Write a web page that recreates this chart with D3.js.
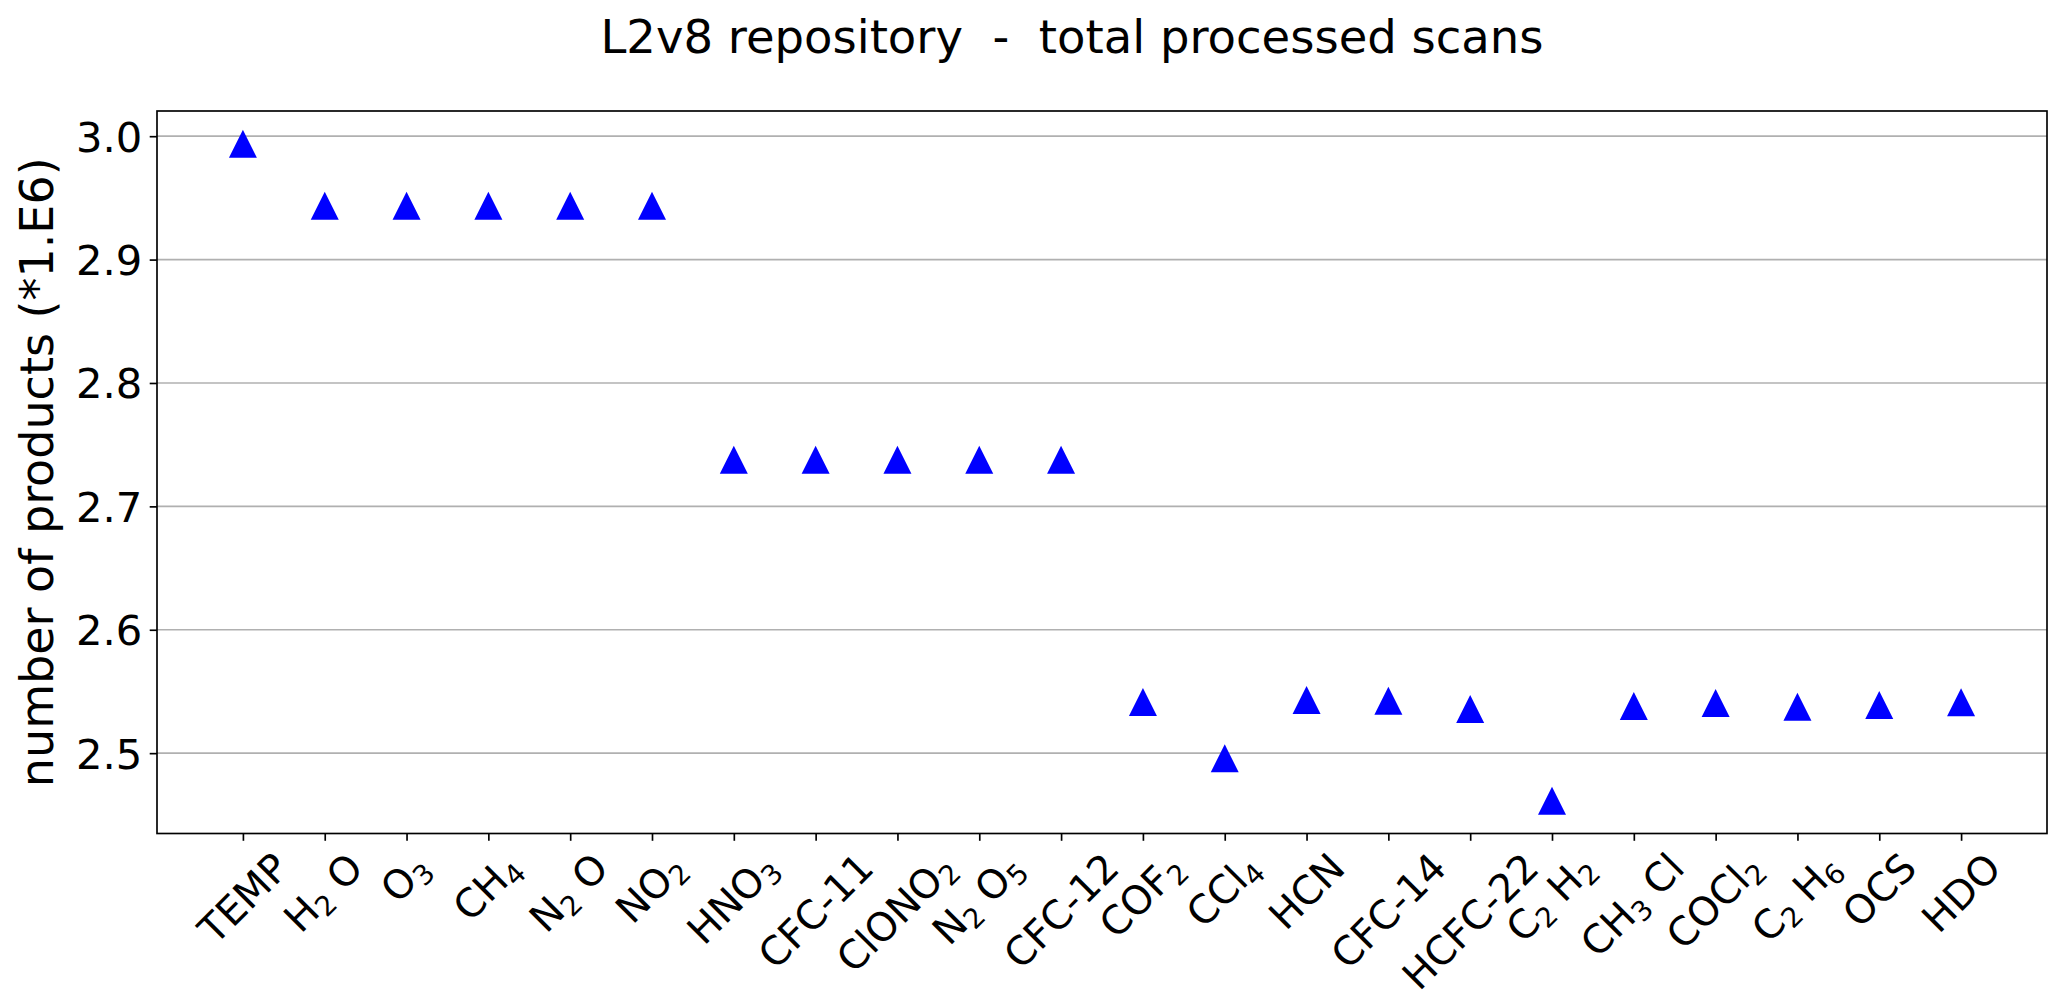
<!DOCTYPE html>
<html>
<head>
<meta charset="utf-8">
<script src="https://cdn.jsdelivr.net/npm/d3@7"></script>
<style>
  html, body { margin: 0; padding: 0; background: #fff; }
  svg { display: block; }
  text { font-family: "DejaVu Sans", sans-serif; fill: #000; }
</style>
</head>
<body>
<svg id="chart" width="2067" height="999"></svg>
<script>
// ---- data ----
const categories = ["TEMP", "H_2 O", "O_3", "CH_4", "N_2 O", "NO_2", "HNO_3", "CFC-11", "ClONO_2", "N_2 O_5", "CFC-12",
  "COF_2", "CCl_4", "HCN", "CFC-14", "HCFC-22", "C_2 H_2", "CH_3 Cl", "COCl_2", "C_2 H_6", "OCS", "HDO"];
const products = [2.9938, 2.9437, 2.9437, 2.9437, 2.9437, 2.9437, 2.7378, 2.7378, 2.7378, 2.7378, 2.7378,
  2.5414, 2.4958, 2.5430, 2.5425, 2.5357, 2.4615, 2.5382, 2.5406, 2.5377, 2.5390, 2.5413];
const yTicks = [2.5, 2.6, 2.7, 2.8, 2.9, 3.0];
const yTickLabels = ["2.5", "2.6", "2.7", "2.8", "2.9", "3.0"];
const titleText = "L2v8 repository  -  total processed scans";
const yLabelText = "number of products (*1.E6)";

// ---- layout ----
const W = 2067, H = 999;
const L = 157, R = 2047, T = 111, B = 833.5;
const tickLen = 7.3, pad = 7.3;
const fs = 41.7;
const fsx = 39.5;

const svg = d3.select("#chart");

const n = categories.length;
const xm = 0.05 * (n - 1);
const x = d3.scaleLinear().domain([-xm, n - 1 + xm]).range([L, R]);
const [ymin, ymax] = d3.extent(products);
const ymar = 0.05 * (ymax - ymin);
const y = d3.scaleLinear().domain([ymin - ymar, ymax + ymar]).range([B, T]);

// grid
svg.append("g").selectAll("line").data(yTicks).join("line")
  .attr("x1", L).attr("x2", R)
  .attr("y1", d => y(d)).attr("y2", d => y(d))
  .attr("stroke", "#b0b0b0").attr("stroke-width", 1.67);

// y axis
const yAxis = svg.append("g").attr("transform", `translate(${L},0)`)
  .call(d3.axisLeft(y).tickValues(yTicks).tickSize(tickLen).tickPadding(pad)
    .tickFormat((d, i) => yTickLabels[i]));
yAxis.select(".domain").remove();
yAxis.selectAll(".tick line").attr("stroke", "#000").attr("stroke-width", 1.67);
yAxis.selectAll(".tick text").attr("font-size", fs).attr("font-family", "DejaVu Sans").attr("dy", "0.36em");

// x axis (ticks only; labels custom)
const xAxis = svg.append("g").attr("transform", `translate(0,${B})`)
  .call(d3.axisBottom(x).tickValues(d3.range(n)).tickSize(tickLen).tickFormat(""));
xAxis.select(".domain").remove();
xAxis.selectAll(".tick line").attr("stroke", "#000").attr("stroke-width", 1.67);

// x tick labels with subscripts, rotated 45deg, centered on tick, top-aligned
categories.forEach((lab, i) => {
  const outer = svg.append("g").attr("transform", `translate(${x(i)},${B + tickLen + pad - 4})`);
  const inner = outer.append("g");
  const t = inner.append("text").attr("font-size", fsx).attr("transform", "rotate(-45)");
  const parts = lab.split(/(_\d)/).filter(s => s.length);
  let lowered = false;
  parts.forEach(p => {
    if (p.startsWith("_")) {
      t.append("tspan").text(p.slice(1)).attr("font-size", fsx * 0.7).attr("dy", lowered ? 0 : fsx * 0.17);
      lowered = true;
    } else {
      t.append("tspan").text(p).attr("dy", lowered ? -fsx * 0.17 : 0).style("white-space", "pre");
      lowered = false;
    }
  });
  const bb = outer.node().getBBox();
  inner.attr("transform", `translate(${-bb.x - bb.width / 2},${-bb.y})`);
});

// spines
svg.append("rect").attr("x", L).attr("y", T).attr("width", R - L).attr("height", B - T)
  .attr("fill", "none").attr("stroke", "#000").attr("stroke-width", 1.67);

// markers
const s = 28;
const tri = `M0,${-s / 2}L${s / 2},${s / 2}L${-s / 2},${s / 2}Z`;
svg.append("g").selectAll("path").data(products).join("path")
  .attr("d", tri)
  .attr("transform", (d, i) => `translate(${x(i)},${y(d)})`)
  .attr("fill", "#0000ff");

// title
svg.append("text").attr("x", 1072).attr("y", 53).attr("text-anchor", "middle")
  .attr("font-size", 46.5).text(titleText).style("white-space", "pre");

// y label
svg.append("text").attr("transform", `translate(53,${(T + B) / 2}) rotate(-90)`)
  .attr("text-anchor", "middle").attr("font-size", 46).text(yLabelText);
</script>
</body>
</html>
